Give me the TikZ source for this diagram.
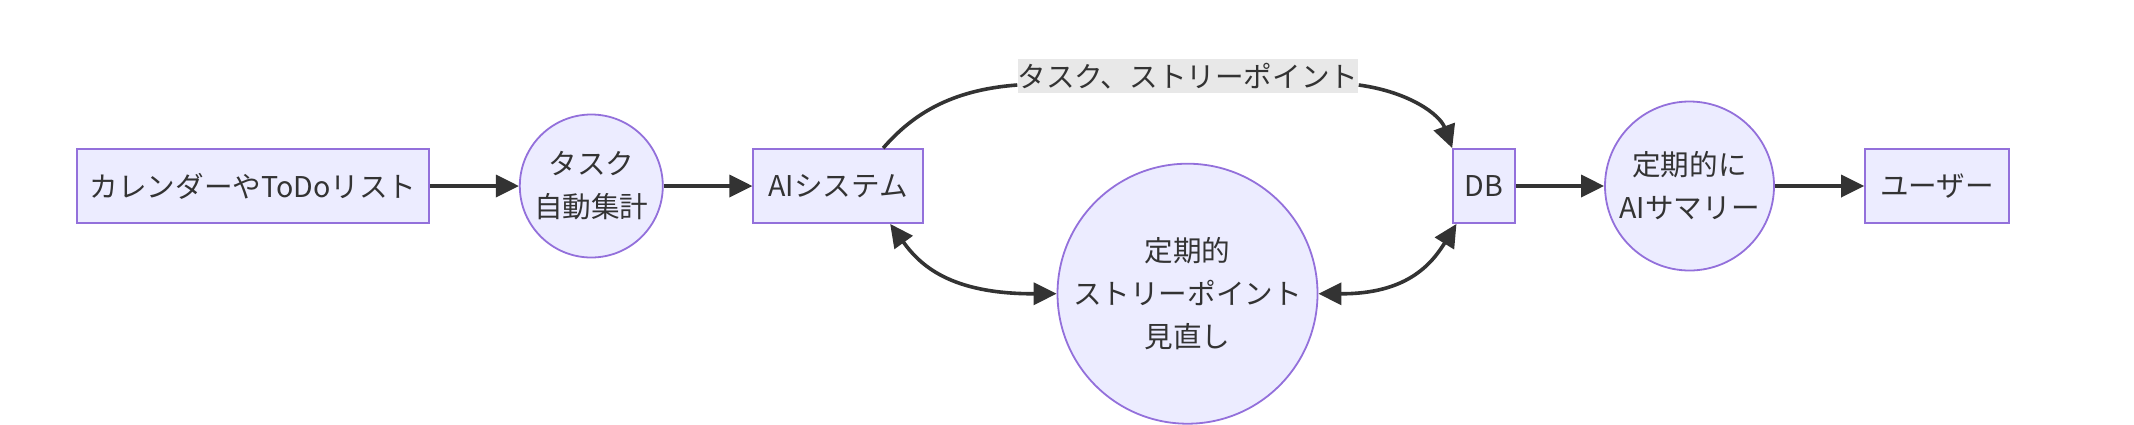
\documentclass[tikz,border=0pt]{standalone}
\usepackage{fontspec}
\setmainfont{Noto Sans CJK JP}
\usetikzlibrary{arrows.meta}
\definecolor{FlowInk}{HTML}{333333}
\definecolor{FlowFill}{HTML}{ECECFF}
\definecolor{FlowEdge}{HTML}{9370DB}
\definecolor{FlowLabel}{HTML}{E8E8E8}
\tikzset{
  every node/.style={font={\fontsize{14.3pt}{21.5pt}\selectfont}, text=FlowInk, align=center},
  box/.style={draw=FlowEdge, fill=FlowFill, line width=0.9pt, minimum height=37pt, inner sep=0pt},
  bubble/.style={circle, draw=FlowEdge, fill=FlowFill, line width=0.9pt, inner sep=0pt},
  link/.style={draw=FlowInk, line width=1.8pt},
  flow/.style={link, -{Triangle[length=11.5pt,width=11pt]}},
  twoway/.style={link, {Triangle[length=11.5pt,width=11pt]}-{Triangle[length=11.5pt,width=11pt]}},
  edgelabel/.style={fill=FlowLabel, inner sep=0pt, minimum height=17pt},
}

\begin{document}
\begin{tikzpicture}[x=0.5pt, y=-0.5pt]
  \useasboundingbox (0,0) rectangle (2134,424);
  % Nodes
  \node[box, minimum width=175.9pt] (cal) at (253,186) {カレンダーやToDoリスト};
  \node[bubble, minimum size=71.5pt] (tally) at (591.3,186) {タスク\\自動集計};
  \node[box, minimum width=84.7pt] (ai) at (838,186) {AIシステム};
  \node[bubble, minimum size=130pt] (review) at (1187.5,293.7) {定期的\\ストリーポイント\\見直し};
  \node[box, minimum width=31pt] (db) at (1484,186) {DB};
  \node[bubble, minimum size=84.5pt] (summary) at (1689.5,186) {定期的に\\AIサマリー};
  \node[box, minimum width=71.9pt] (user) at (1937,186) {ユーザー};
  \node[edgelabel] (points) at (1188,76) {タスク、ストリーポイント};
  % Straight connectors
  \draw[flow] (cal) -- (tally);
  \draw[flow] (tally) -- (ai);
  \draw[flow] (db) -- (summary);
  \draw[flow] (summary) -- (user);
  % Upper curve, broken by its label
  \draw[link] (ai.40) .. controls (912,115) and (950,90) .. ([yshift=-4.5pt]points.west);
  \draw[flow] ([yshift=-4.5pt]points.east) .. controls (1410,92) and (1440,115) .. (db.130);
  % Review loop
  \draw[twoway] (ai.-36) .. controls (920,265) and (950,294) .. (review.west);
  \draw[twoway] (review.east) .. controls (1406,294) and (1431,265) .. (db.234);
\end{tikzpicture}
\end{document}
